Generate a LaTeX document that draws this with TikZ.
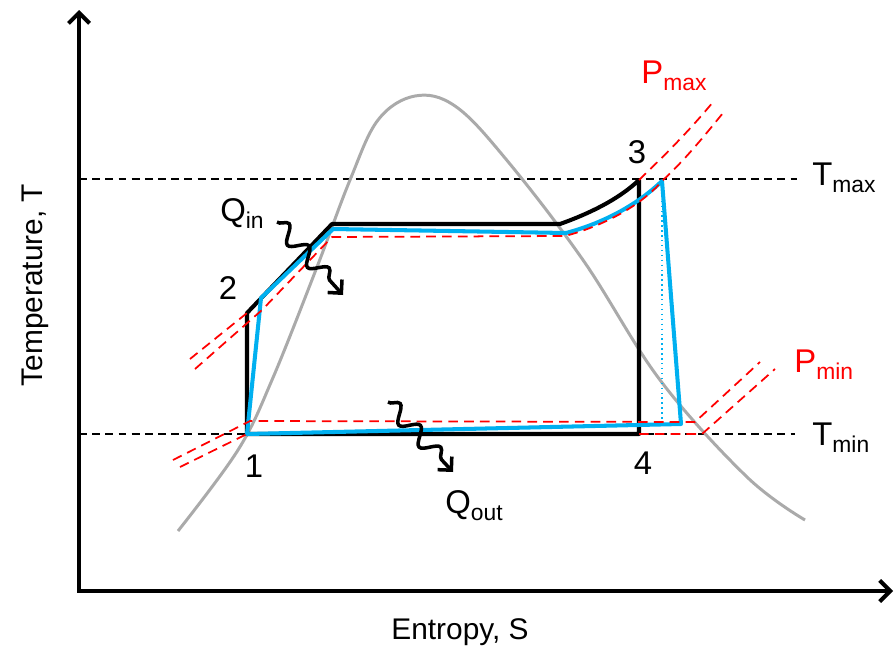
\documentclass[tikz,border=0pt]{standalone}
\usepackage{fontspec}
\setmainfont{Liberation Sans}
\usepackage{tikz}
\usetikzlibrary{arrows.meta,decorations.pathmorphing,calc}
\usepackage{xcolor}
\definecolor{cycblue}{RGB}{0,176,240}
\definecolor{domegray}{RGB}{170,170,170}
\newcommand{\lowsub}[1]{\raisebox{-4pt}{\fontsize{13}{14}\selectfont #1}}

\begin{document}
\begin{tikzpicture}[x=0.02cm, y=-0.02cm,
    ideal/.style={line width=2.3pt, black, line join=round},
    real/.style={line width=2.3pt, cycblue, line join=round},
    isobar/.style={red, line width=1pt, dash pattern=on 5.5pt off 3.5pt},
    tline/.style={black, line width=0.8pt, dash pattern=on 4.5pt off 3pt},
    heat/.style={line width=2pt, -{Straight Barb[length=5.5pt,width=11pt]},
        decorate, decoration={snake, amplitude=4.5pt, segment length=17pt, post length=7pt}},
    lbl/.style={font=\fontsize{18.7}{20}\selectfont, inner sep=0pt},
    axlbl/.style={font=\fontsize{17}{20}\selectfont, inner sep=0pt}]
    \useasboundingbox (0,0) rectangle (895,649);

    % Axes
    \coordinate (origin) at (79,591);
    \coordinate (ytop) at (79,10);
    \coordinate (xend) at (893,591);
    \draw[line width=2.3pt, {Straight Barb[length=6pt,width=12pt]}-{Straight Barb[length=6pt,width=12pt]}]
        (ytop) -- (origin) -- (xend);
    \node[axlbl] (xlabel) at (460,632) {Entropy,  S};
    \node[axlbl, rotate=90] (ylabel) at (35,285) {Temperature, T};

    % Temperature limits
    \coordinate (tmaxl) at (79,179);
    \coordinate (tmaxr) at (797,179);
    \coordinate (tminl) at (79,434);
    \coordinate (tminr) at (795,434);
    \draw[tline] (tmaxl) -- (tmaxr);
    \draw[tline] (tminl) -- (tminr);
    \node[lbl, anchor=base west] (tmax) at (812,185) {T\lowsub{max}};
    \node[lbl, anchor=base west] (tmin) at (812,445) {T\lowsub{min}};

    % Saturation dome
    \draw[domegray, line width=1.7pt] plot[smooth, tension=0.6] coordinates {
        (178,531) (238,450) (272,380) (317,267) (350,180) (378,120) (415,96)
        (455,106) (505,158) (583,260) (660,380) (747,477) (805,520)};

    % Ideal cycle
    \coordinate (s1) at (247,434);
    \coordinate (s2) at (247,313);
    \coordinate (s2a) at (332,224);
    \coordinate (s2b) at (560,224);
    \coordinate (s3) at (639,180);
    \coordinate (s4) at (639,434);
    \draw[ideal] (s1) -- (s2) -- (s2a) -- (s2b)
        .. controls (588,214) and (618,200) .. (s3) -- (s4) -- cycle;

    % Real cycle
    \coordinate (r2) at (261,298);
    \coordinate (r2a) at (333,229);
    \coordinate (r2b) at (566,233);
    \coordinate (r3) at (662,181);
    \coordinate (r4) at (681,424);
    \draw[real] (s1) -- (r2) -- (r2a) -- (r2b)
        .. controls (600,224) and (635,207) .. (r3) -- (r4) -- cycle;
    \draw[cycblue, line width=0.8pt, dotted] (r3) -- (r3 |- r4);

    % Isobars P_max
    \draw[isobar] (190,359) -- (s2);
    \draw[isobar] (s3) .. controls (665,155) and (690,130) .. (713,102);
    \draw[isobar] (195,369) -- (262,310) -- (332,237) -- (565,236)
        .. controls (600,227) and (640,207) .. (r3)
        .. controls (685,160) and (705,135) .. (723,113);
    \node[lbl, anchor=base west, red] (pmax) at (641,83) {P\lowsub{max}};

    % Isobars P_min
    \draw[isobar] (173,460) -- (250,421) -- (695,422) -- (760,362);
    \draw[isobar] (180,467) -- (s1);
    \draw[isobar] (s4) -- (702,434) -- (775,369);
    \node[lbl, anchor=base west, red] (pmin) at (794,372) {P\lowsub{min}};

    % State labels
    \node[lbl] (n1) at (254,466) {1};
    \node[lbl] (n2) at (228,288) {2};
    \node[lbl] (n3) at (637,152) {3};
    \node[lbl] (n4) at (643,463) {4};

    % Heat flows
    \coordinate (qin0) at (277,222);
    \coordinate (qin1) at (343,295);
    \coordinate (qout0) at (388,402);
    \coordinate (qout1) at (453,472);
    \draw[heat] (qin0) -- (qin1);
    \draw[heat] (qout0) -- (qout1);
    \node[lbl, anchor=base west] (qin) at (220,221) {Q\lowsub{in}};
    \node[lbl, anchor=base west] (qout) at (445,513) {Q\lowsub{out}};
\end{tikzpicture}
\end{document}
